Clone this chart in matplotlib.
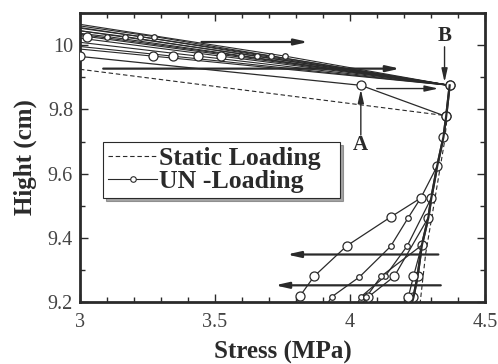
import matplotlib
matplotlib.use("Agg")
import matplotlib.pyplot as plt
from matplotlib.lines import Line2D
from matplotlib.ticker import MultipleLocator

plt.rcParams['font.family'] = ['Liberation Serif', 'DejaVu Serif']

INK = '#2a2a2a'

# ---- data ----
static_x = [3.0, 4.36, 4.35, 4.33, 4.30, 4.28, 4.26]
static_y = [9.925, 9.78, 9.70, 9.60, 9.45, 9.35, 9.20]

first_x = [3.0, 4.04, 4.356, 4.369]
first_y = [9.965, 9.875, 9.778, 9.875]

main_x = [4.369, 4.356, 4.346, 4.323, 4.301, 4.29, 4.266, 4.25, 4.235, 4.23]
main_y = [9.875, 9.778, 9.714, 9.624, 9.524, 9.463, 9.377, 9.28, 9.215, 9.20]

branches = [
    ([4.323, 4.262, 4.151, 3.988, 3.867, 3.815, 3.80], [9.624, 9.524, 9.465, 9.375, 9.28, 9.219, 9.20], 'L'),
    ([4.262, 4.215, 4.15, 4.035, 3.932, 3.92], [9.524, 9.462, 9.373, 9.278, 9.216, 9.20], 'S'),
    ([4.301, 4.212, 4.13, 4.04, 4.03], [9.524, 9.375, 9.28, 9.216, 9.20], 'S'),
    ([4.29, 4.164, 4.068, 4.06], [9.463, 9.28, 9.216, 9.20], 'L'),
    ([4.266, 4.115, 4.06, 4.05], [9.377, 9.28, 9.215, 9.20], 'S'),
    ([4.266, 4.235, 4.216, 4.214], [9.377, 9.28, 9.216, 9.20], 'L'),
]

# top fan: circle position (x, y, size) and height where its line meets x = 3
fan_cx = [3.27, 3.343, 3.437, 3.521, 3.595, 3.656, 3.707, 3.759, 3.027, 3.101, 3.165, 3.221, 3.273]
fan_cy = [9.966, 9.966, 9.966, 9.966, 9.966, 9.966, 9.966, 9.966, 10.027, 10.027, 10.027, 10.027, 10.027]
fan_sz = ['L', 'L', 'L', 'L', 'S', 'S', 'S', 'S', 'L', 'S', 'S', 'S', 'S']
fan_left = [9.988, 9.996, 10.009, 10.022, 10.034, 10.045, 10.055, 10.065, 10.03, 10.037, 10.045, 10.053, 10.06]
B_x, B_y = 4.369, 9.875

xticks = [3, 3.5, 4, 4.5]
xtick_labels = ['3', '3.5', '4', '4.5']
yticks = [9.2, 9.4, 9.6, 9.8, 10.0]
ytick_labels = ['9.2', '9.4', '9.6', '9.8', '10']

# ---- figure ----
fig = plt.figure(figsize=(4.98, 3.64), dpi=100)
ax = fig.add_axes([0.1606, 0.1703, 0.8134, 0.7937])
ax.set_xlim(3, 4.5)
ax.set_ylim(9.2, 10.1)

MS = {'L': 6.5, 'S': 4.0}
mk = dict(marker='o', mfc='white', mec=INK, mew=0.9)

# top fan
for cx, cy, s, yl in zip(fan_cx, fan_cy, fan_sz, fan_left):
    ax.plot([B_x, cx, 3.0], [B_y, cy, yl], color=INK, lw=0.8, zorder=2)
    ax.plot([cx], [cy], color=INK, ms=MS[s], zorder=4, **mk)

ax.plot(static_x, static_y, ls=(0, (4, 2.5)), color=INK, lw=0.8, zorder=2)
ax.plot(first_x, first_y, color=INK, lw=0.9, ms=MS['L'], zorder=3, **mk)
ax.plot(main_x[:-1], main_y[:-1], color=INK, lw=1.6, ms=MS['L'], zorder=3, **mk)
ax.plot(main_x, main_y, color=INK, lw=1.6, zorder=3)
for bx, by, s in branches:
    ax.plot(bx, by, color=INK, lw=0.9, zorder=3)
    ax.plot(bx[1:-1], by[1:-1], ls='none', color=INK, ms=MS[s], zorder=4, **mk)

# arrows
ap = dict(arrowstyle='-|>,head_length=0.8,head_width=0.18', color=INK, lw=1.6, shrinkA=0, shrinkB=0)
ax.annotate('', xy=(3.845, 10.01), xytext=(3.45, 10.01), arrowprops=ap)
ax.annotate('', xy=(4.185, 9.927), xytext=(3.086, 9.927), arrowprops=ap)
ax.annotate('', xy=(4.327, 9.865), xytext=(4.099, 9.865), arrowprops=dict(ap, lw=1.0))
ax.annotate('', xy=(3.766, 9.348), xytext=(4.327, 9.348), arrowprops=ap)
ax.annotate('', xy=(3.722, 9.252), xytext=(4.336, 9.252), arrowprops=ap)
ax.annotate('', xy=(4.04, 9.862), xytext=(4.04, 9.72), arrowprops=dict(ap, lw=1.0))
ax.annotate('', xy=(4.35, 9.885), xytext=(4.35, 9.995), arrowprops=dict(ap, lw=1.0))
ax.text(4.04, 9.688, 'A', ha='center', va='center', fontsize=15, fontweight='bold', color=INK)
ax.text(4.35, 10.03, 'B', ha='center', va='center', fontsize=15, fontweight='bold', color=INK)

# legend
handles = [Line2D([], [], ls=(0, (4, 2.5)), color=INK, lw=0.8),
           Line2D([], [], color=INK, lw=0.8, marker='o', ms=4, mfc='white', mec=INK, mew=0.8)]
leg = ax.legend(handles, ['Static Loading', 'UN -Loading'], loc='lower left',
                bbox_to_anchor=(0.0575, 0.36, 0.585, 0.21), mode='expand',
                frameon=True, fancybox=False, shadow=True,
                prop=dict(family='Liberation Serif', weight='bold', size=18.5),
                handlelength=1.9, handletextpad=0.05, borderpad=0.2, labelspacing=0.0,
                borderaxespad=0)
leg.get_frame().set_edgecolor(INK)
leg.get_frame().set_linewidth(0.8)
for t in leg.get_texts():
    t.set_color(INK)

# axes styling
ax.set_xticks(xticks)
ax.set_xticklabels(xtick_labels)
ax.set_yticks(yticks)
ax.set_yticklabels(ytick_labels)
ax.xaxis.set_minor_locator(MultipleLocator(0.1))
ax.yaxis.set_minor_locator(MultipleLocator(0.1))
ax.tick_params(which='both', direction='in', top=True, right=True, color=INK, width=1)
ax.tick_params(which='major', length=6, labelsize=14.5, labelcolor='#444444', pad=5)
ax.tick_params(axis='x', which='major', pad=8)
ax.tick_params(which='minor', length=3.5)
for sp in ax.spines.values():
    sp.set_linewidth(2)
    sp.set_color(INK)
ax.set_xlabel('Stress (MPa)', fontsize=18, fontweight='bold', color=INK, labelpad=6)
ax.set_ylabel('Hight (cm)', fontsize=18, fontweight='bold', color=INK, labelpad=8)

fig.savefig('out.png', dpi=100)
